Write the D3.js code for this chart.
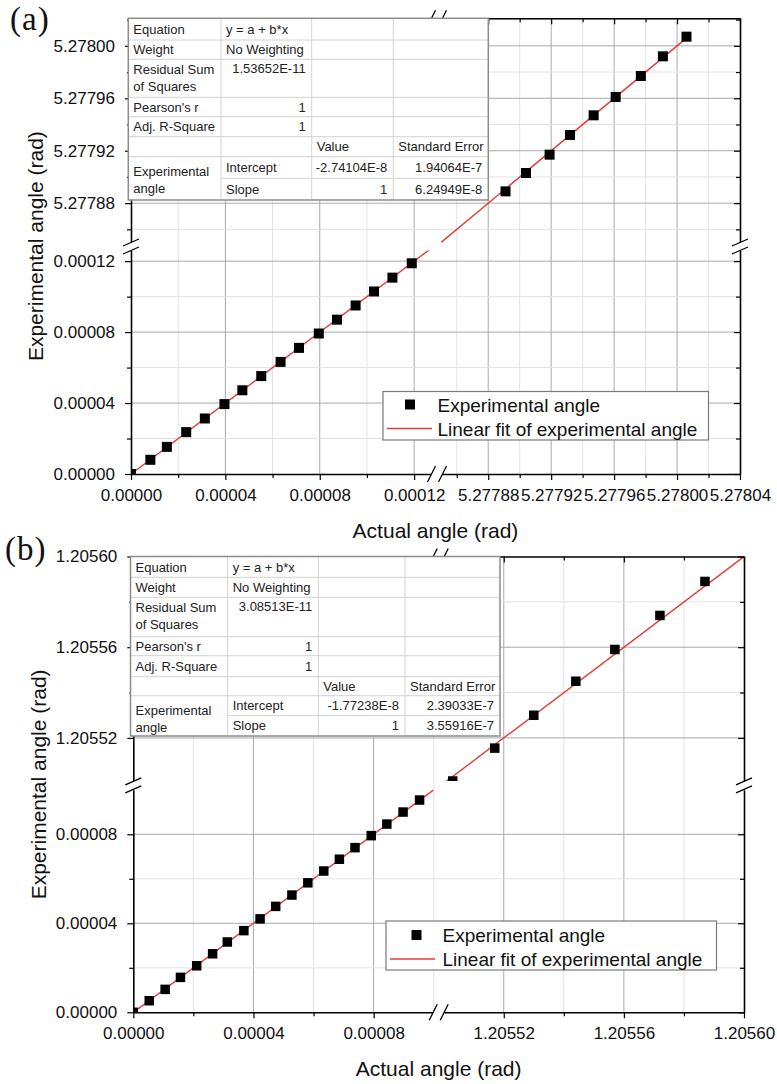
<!DOCTYPE html>
<html><head><meta charset="utf-8">
<script src="https://cdn.jsdelivr.net/npm/d3@7"></script>
<style>
body{margin:0;background:#fff;}
svg{display:block;}
</style>
</head><body>
<svg id="c" width="777" height="1084" font-family='"Liberation Sans", Arial, sans-serif'></svg>
<script>
// ================= DATA =================
// Panel (a)
const aXLow  = [0, 0.0000082, 0.0000152, 0.0000234, 0.0000313, 0.0000396, 0.0000472, 0.0000552, 0.0000634, 0.0000712, 0.0000796, 0.0000873, 0.0000952, 0.0001030, 0.0001108, 0.0001190];
const aYLow  = [0, 0.0000080, 0.0000153, 0.0000236, 0.0000313, 0.0000394, 0.0000472, 0.0000552, 0.0000632, 0.0000711, 0.0000792, 0.0000870, 0.0000950, 0.0001029, 0.0001107, 0.0001188];
const aXHigh = [5.277891, 5.277904, 5.277919, 5.277932, 5.277947, 5.277961, 5.277977, 5.277991, 5.278006];
const aYHigh = [5.277889, 5.277903, 5.277917, 5.277932, 5.277947, 5.277961, 5.277977, 5.277992, 5.278007];
const aXTicksLow  = [0, 0.00004, 0.00008, 0.00012];
const aXMinorLow  = [0.00002, 0.00006, 0.00010];
const aXTicksHigh = [5.27788, 5.27792, 5.27796, 5.27800, 5.27804];
const aXMinorHigh = [5.27786, 5.27790, 5.27794, 5.27798, 5.27802];
const aYTicksLow  = [0, 0.00004, 0.00008, 0.00012];
const aYMinorLow  = [0.00002, 0.00006, 0.00010];
const aYTicksHigh = [5.27788, 5.27792, 5.27796, 5.27800];
const aYMinorHigh = [5.27786, 5.27790, 5.27794, 5.27798, 5.27802];
const aFitCoef = [-2.74104e-8, 1];          // intercept, slope
const aFitRange = [0, 5.278008];
const aTable = [
  ["Equation", "y = a + b*x", "", ""],
  ["Weight", "No Weighting", "", ""],
  ["Residual Sum\nof Squares", "1.53652E-11", "", ""],
  ["Pearson's r", "1", "", ""],
  ["Adj. R-Square", "1", "", ""],
  ["", "", "Value", "Standard Error"],
  ["Experimental\nangle", "Intercept", "-2.74104E-8", "1.94064E-7"],
  ["", "Slope", "1", "6.24949E-8"]
];

// Panel (b)
const bXLow  = [0, 0.0000053, 0.0000106, 0.0000157, 0.0000211, 0.0000264, 0.0000313, 0.0000368, 0.0000422, 0.0000474, 0.0000528, 0.0000581, 0.0000634, 0.0000686, 0.0000738, 0.0000792, 0.0000844, 0.0000898, 0.0000953];
const bYLow  = [0, 0.0000052, 0.0000103, 0.0000157, 0.0000209, 0.0000263, 0.0000316, 0.0000367, 0.0000420, 0.0000476, 0.0000527, 0.0000582, 0.0000635, 0.0000688, 0.0000740, 0.0000794, 0.0000846, 0.0000900, 0.0000954];
const bXHigh = [1.205503, 1.205517, 1.205530, 1.205544, 1.205557, 1.205572, 1.205587];
const bYHigh = [1.205501, 1.2055155, 1.205530, 1.205545, 1.205559, 1.205574, 1.205589];
const bXTicksLow  = [0, 0.00004, 0.00008];
const bXMinorLow  = [0.00002, 0.00006, 0.00010];
const bXTicksHigh = [1.20552, 1.20556, 1.20560];
const bXMinorHigh = [1.20554, 1.20558];
const bYTicksLow  = [0, 0.00004, 0.00008];
const bYMinorLow  = [0.00002, 0.00006];
const bYTicksHigh = [1.20552, 1.20556, 1.20560];
const bYMinorHigh = [1.20554, 1.20558];
const bFitCoef = [-1.77238e-8, 1];
const bFitRange = [0, 1.2056];
const bTable = [
  ["Equation", "y = a + b*x", "", ""],
  ["Weight", "No Weighting", "", ""],
  ["Residual Sum\nof Squares", "3.08513E-11", "", ""],
  ["Pearson's r", "1", "", ""],
  ["Adj. R-Square", "1", "", ""],
  ["", "", "Value", "Standard Error"],
  ["Experimental\nangle", "Intercept", "-1.77238E-8", "2.39033E-7"],
  ["", "Slope", "1", "3.55916E-7"]
];

const legendLabels = ["Experimental angle", "Linear fit of experimental angle"];
const xTitle = "Actual angle (rad)";
const yTitle = "Experimental angle (rad)";

// ================= DRAWING =================
const SANS = '"Liberation Sans", Arial, sans-serif';
const SERIF = '"Liberation Serif", "Times New Roman", serif';
const svg = d3.select('#c');
svg.append('rect').attr('width', 777).attr('height', 1084).attr('fill', '#fff');
const fmt = d3.format('.5f');
const isNum = s => /^-?[\d.]+(E-?\d+)?$/.test(s);

function panel(P) {
  const L = P.layout;
  const g = svg.append('g').attr('font-family', SANS);
  const xL = d3.scaleLinear().domain(P.xDomL).range([L.left, L.xBreak - L.gapX]);
  const xR = d3.scaleLinear().domain(P.xDomR).range([L.xBreak + L.gapX, L.right]);
  const yB = d3.scaleLinear().domain(P.yDomB).range([L.bottom, L.yBreak + L.gapY]);
  const yT = d3.scaleLinear().domain(P.yDomT).range([L.yBreak - L.gapY, L.top]);
  const xs = [xL, xR], ys = [yB, yT];
  const xSplit = (P.xDomL[1] + P.xDomR[0]) / 2, ySplit = (P.yDomB[1] + P.yDomT[0]) / 2;

  // ---- gridlines ----
  const grid = g.append('g');
  const v = [], h = [];
  [[xL, P.xMinL, 0], [xR, P.xMinR, 0], [xL, P.xMajL, 1], [xR, P.xMajR, 1]].forEach(([s, vals, k]) =>
    vals.forEach(d => { const p = s(d); if (p > L.left + 1 && p < L.right - 1) v.push({p, k}); }));
  [[yB, P.yMinB, 0], [yT, P.yMinT, 0], [yB, P.yMajB, 1], [yT, P.yMajT, 1]].forEach(([s, vals, k]) =>
    vals.forEach(d => { const p = s(d); if (p > L.top + 1 && p < L.bottom - 1) h.push({p, k}); }));
  const gcol = k => k ? '#a9a9a9' : '#e3e3e3';
  grid.selectAll('line.v').data(v).join('line').attr('class', 'v')
    .attr('x1', d => d.p).attr('x2', d => d.p).attr('y1', L.top).attr('y2', L.bottom)
    .attr('stroke', d => gcol(d.k)).attr('stroke-width', 1);
  grid.selectAll('line.h').data(h).join('line').attr('class', 'h')
    .attr('y1', d => d.p).attr('y2', d => d.p).attr('x1', L.left).attr('x2', L.right)
    .attr('stroke', d => gcol(d.k)).attr('stroke-width', 1);

  // ---- clip paths for the four quadrants ----
  const clipIds = [[], []];
  for (let i = 0; i < 2; i++) for (let j = 0; j < 2; j++) {
    const id = P.id + 'q' + i + j;
    const xr = xs[i].range(), yr = ys[j].range();
    svg.append('clipPath').attr('id', id).append('rect')
      .attr('x', Math.min(...xr)).attr('y', Math.min(...yr))
      .attr('width', Math.abs(xr[1] - xr[0])).attr('height', Math.abs(yr[1] - yr[0]));
    clipIds[i][j] = id;
  }

  // ---- fit line ----
  const [a, b] = P.fitCoef;
  for (let i = 0; i < 2; i++) for (let j = 0; j < 2; j++) {
    const xd = xs[i].domain();
    const x0 = Math.max(xd[0], P.fitRange[0]), x1 = Math.min(xd[1], P.fitRange[1]);
    if (x0 >= x1) continue;
    const y0 = a + b * x0, y1 = a + b * x1, yd = ys[j].domain();
    if (Math.max(y0, y1) < yd[0] || Math.min(y0, y1) > yd[1]) continue;
    const line = d3.line().x(d => xs[i](d[0])).y(d => ys[j](d[1]));
    g.append('path').attr('d', line([[x0, y0], [x1, y1]]))
      .attr('fill', 'none').attr('stroke', '#e23b3b').attr('stroke-width', 1.4)
      .attr('clip-path', `url(#${clipIds[i][j]})`);
  }

  // ---- markers ----
  const pts = P.xLow.map((x, k) => [x, P.yLow[k]]).concat(P.xHigh.map((x, k) => [x, P.yHigh[k]]));
  const ms = P.markerSize;
  pts.forEach(([x, y]) => {
    const i = x < xSplit ? 0 : 1, j = y < ySplit ? 0 : 1;
    g.append('rect').attr('x', xs[i](x) - ms / 2).attr('y', ys[j](y) - ms / 2)
      .attr('width', ms).attr('height', ms).attr('fill', '#000')
      .attr('clip-path', `url(#${clipIds[i][j]})`);
  });

  // ---- axes ----
  const ax = g.append('g');
  function axis(gen, scale, major, minor, tx, ty, inward, labels, pad) {
    const dir = inward ? -1 : 1;
    const gm = ax.append('g').attr('transform', `translate(${tx},${ty})`)
      .call(gen(scale).tickValues(minor).tickFormat('').tickSizeInner(4 * dir).tickSizeOuter(0));
    gm.select('.domain').remove();
    gm.selectAll('line').attr('stroke', '#000').attr('stroke-width', 1.2);
    const gM = ax.append('g').attr('transform', `translate(${tx},${ty})`)
      .call(gen(scale).tickValues(major).tickFormat(labels ? fmt : '').tickSizeInner(6 * dir).tickSizeOuter(0).tickPadding(pad || 3));
    gM.select('.domain').attr('stroke', '#000').attr('stroke-width', 1.6);
    gM.selectAll('line').attr('stroke', '#000').attr('stroke-width', 1.2);
    gM.attr('font-family', SANS);
    gM.selectAll('text').attr('font-size', 17).attr('fill', '#111');
  }
  axis(d3.axisBottom, xL, P.xMajL, P.xMinL, 0, L.bottom, false, true, 9);
  axis(d3.axisBottom, xR, P.xMajR, P.xMinR, 0, L.bottom, false, true, 9);
  axis(d3.axisTop, xL, P.xMajL, P.xMinL, 0, L.top, true, false);
  axis(d3.axisTop, xR, P.xMajR, P.xMinR, 0, L.top, true, false);
  axis(d3.axisLeft, yB, P.yMajB, P.yMinB, L.left, 0, false, true, 10);
  axis(d3.axisLeft, yT, P.yMajT, P.yMinT, L.left, 0, false, true, 10);
  axis(d3.axisRight, yB, P.yMajB, P.yMinB, L.right, 0, true, false);
  axis(d3.axisRight, yT, P.yMajT, P.yMinT, L.right, 0, true, false);

  // ---- break marks ----
  const bk = g.append('g');
  function xBreak(x, y) {
    const hh = 8, w = 4, off = 5.5;
    bk.append('polygon').attr('points', [[x - off - w, y + hh], [x - off + w, y - hh], [x + off + w, y - hh], [x + off - w, y + hh]].join(' '))
      .attr('fill', '#fff');
    [x - off, x + off].forEach(c => bk.append('line').attr('x1', c - w).attr('y1', y + hh).attr('x2', c + w).attr('y2', y - hh)
      .attr('stroke', '#000').attr('stroke-width', 1.3));
  }
  function yBreak(x, y) {
    const w = 8, hh = 3.5, off = 4;
    bk.append('polygon').attr('points', [[x - w, y - off + hh], [x + w, y - off - hh], [x + w, y + off - hh], [x - w, y + off + hh]].join(' '))
      .attr('fill', '#fff');
    [y - off, y + off].forEach(c => bk.append('line').attr('x1', x - w).attr('y1', c + hh).attr('x2', x + w).attr('y2', c - hh)
      .attr('stroke', '#000').attr('stroke-width', 1.3));
  }
  xBreak(L.xBreak, L.bottom);
  xBreak(L.xBreak, L.top);
  yBreak(L.left, L.yBreak);
  yBreak(L.right, L.yBreak);

  // ---- table ----
  const T = P.tableLayout, tg = g.append('g');
  const c = T.cols, r = T.rows;
  tg.append('rect').attr('x', c[0]).attr('y', r[0]).attr('width', c[4] - c[0]).attr('height', r[8] - r[0])
    .attr('fill', '#fff');
  for (let k = 1; k < 8; k++) tg.append('line').attr('x1', k === 7 ? c[1] : c[0]).attr('x2', c[4])
    .attr('y1', r[k]).attr('y2', r[k]).attr('stroke', '#d2d2d2').attr('stroke-width', 1);
  for (let k = 1; k < 4; k++) tg.append('line').attr('x1', c[k]).attr('x2', c[k])
    .attr('y1', r[0]).attr('y2', r[8]).attr('stroke', '#d2d2d2').attr('stroke-width', 1);
  tg.append('rect').attr('x', c[0]).attr('y', r[0]).attr('width', c[4] - c[0]).attr('height', r[8] - r[0])
    .attr('fill', 'none').attr('stroke', '#8c8c8c').attr('stroke-width', 1.5);
  P.table.forEach((row, ri) => row.forEach((cell, ci) => {
    if (!cell) return;
    const lines = cell.split('\n');
    const num = isNum(cell);
    const x = num ? c[ci + 1] - 6 : c[ci] + 5;
    let ys0;
    if (ri === 6 && ci === 0) ys0 = [r[6] + 15, r[6] + 31.5];
    else if (ri === 2) ys0 = [r[2] + (num ? 9.5 : 10.5), r[2] + 27];
    else ys0 = [(r[ri] + r[ri + 1]) / 2];
    lines.forEach((t, li) => tg.append('text').attr('x', x).attr('y', ys0[li] + 4.6)
      .attr('text-anchor', num ? 'end' : 'start').attr('font-size', 13).attr('fill', '#222').text(t));
  }));

  // ---- legend ----
  const Lg = P.legend, lg = g.append('g');
  lg.append('rect').attr('x', Lg.x).attr('y', Lg.y).attr('width', Lg.w).attr('height', Lg.h)
    .attr('fill', '#fff').attr('stroke', '#7a7a7a').attr('stroke-width', 1.2);
  lg.append('rect').attr('x', Lg.x + Lg.sym - 5).attr('y', Lg.y + Lg.row1 - 5).attr('width', 10).attr('height', 10).attr('fill', '#000');
  lg.append('line').attr('x1', Lg.x + 4).attr('x2', Lg.x + 49).attr('y1', Lg.y + Lg.row2).attr('y2', Lg.y + Lg.row2)
    .attr('stroke', '#e23b3b').attr('stroke-width', 1.4);
  legendLabels.forEach((t, k) => lg.append('text').attr('x', Lg.x + Lg.tx).attr('y', Lg.y + (k ? Lg.row2 : Lg.row1) + 7)
    .attr('font-size', 19).attr('fill', '#111').text(t));

  // ---- titles ----
  g.append('text').attr('x', (L.left + L.right) / 2).attr('y', L.bottom + 64).attr('text-anchor', 'middle')
    .attr('font-size', 21).attr('fill', '#111').text(xTitle);
  g.append('text').attr('transform', `translate(${L.left - 95},${(L.top + L.bottom) / 2}) rotate(-90)`)
    .attr('text-anchor', 'middle').attr('dy', '0.35em').attr('font-size', 21).attr('fill', '#111').text(yTitle);
  g.append('text').attr('x', P.tag.x).attr('y', P.tag.y).attr('font-family', SERIF)
    .attr('font-size', 33).attr('letter-spacing', 1).attr('fill', '#111').text(P.tag.t);
}

panel({
  id: 'pa',
  layout: {left: 131, right: 740, top: 18.3, bottom: 474, xBreak: 437, yBreak: 246.5, gapX: 4, gapY: 4},
  xDomL: [0, 0.000128], xDomR: [5.27785, 5.27804], yDomB: [0, 0.000126], yDomT: [5.27785, 5.278021],
  xMajL: aXTicksLow, xMinL: aXMinorLow, xMajR: aXTicksHigh, xMinR: aXMinorHigh,
  yMajB: aYTicksLow, yMinB: aYMinorLow, yMajT: aYTicksHigh, yMinT: aYMinorHigh,
  xLow: aXLow, yLow: aYLow, xHigh: aXHigh, yHigh: aYHigh,
  fitCoef: aFitCoef, fitRange: aFitRange, markerSize: 10,
  table: aTable,
  tableLayout: {cols: [128.3, 221, 311.7, 393.3, 488.3], rows: [18.3, 40, 59.3, 97.3, 116.7, 136.7, 156.7, 178.3, 200]},
  legend: {x: 383, y: 391.5, w: 325.5, h: 48.5, sym: 27, row1: 13, row2: 37, tx: 54.5},
  tag: {x: 10, y: 30, t: '(a)'}
});

panel({
  id: 'pb',
  layout: {left: 133.3, right: 744, top: 556.5, bottom: 1012.3, xBreak: 438.7, yBreak: 785.4, gapX: 5, gapY: 4.4},
  xDomL: [0, 0.0001], xDomR: [1.2055, 1.2056], yDomB: [0, 0.0001], yDomT: [1.205501, 1.2056],
  xMajL: bXTicksLow, xMinL: bXMinorLow, xMajR: bXTicksHigh, xMinR: bXMinorHigh,
  yMajB: bYTicksLow, yMinB: bYMinorLow, yMajT: bYTicksHigh, yMinT: bYMinorHigh,
  xLow: bXLow, yLow: bYLow, xHigh: bXHigh, yHigh: bYHigh,
  fitCoef: bFitCoef, fitRange: bFitRange, markerSize: 9.5,
  table: bTable,
  tableLayout: {cols: [130.5, 227.7, 318.3, 405, 500], rows: [556.5, 577.3, 597.3, 636.7, 655.7, 676.7, 695.7, 715.7, 736]},
  legend: {x: 386, y: 921, w: 330.5, h: 49, sym: 30.5, row1: 14, row2: 38, tx: 56.5},
  tag: {x: 5, y: 560, t: '(b)'}
});
</script>
</body></html>
